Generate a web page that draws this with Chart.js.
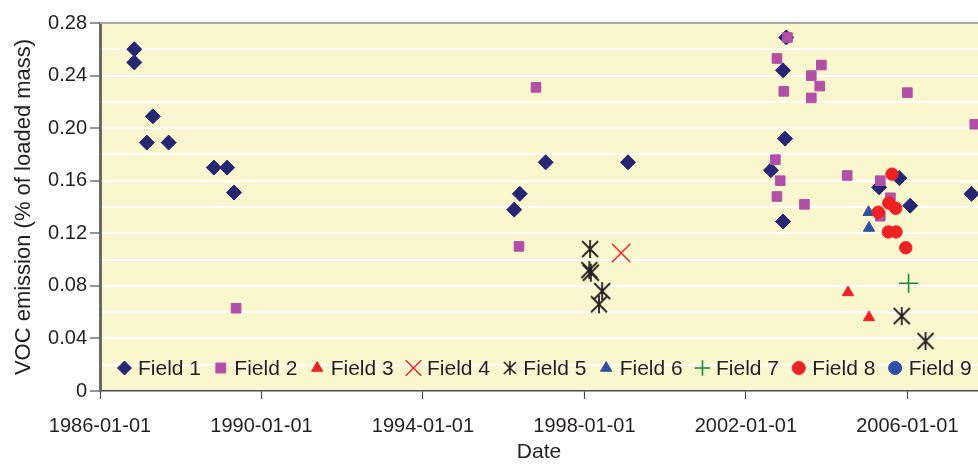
<!DOCTYPE html>
<html><head><meta charset="utf-8">
<script src="https://cdn.jsdelivr.net/npm/chart.js@4.4.1/dist/chart.umd.min.js"></script>
<style>html,body{margin:0;padding:0;background:#fff;overflow:hidden}canvas{display:block}</style>
</head><body><canvas id="c" width="978" height="471" style="width:978px;height:471px"></canvas>
<script>
// ---- data (x = decimal year, y = VOC emission % of loaded mass) ----
const seriesNames = ['Field 1','Field 2','Field 3','Field 4','Field 5','Field 6','Field 7','Field 8','Field 9'];
const xTickValues = [1986, 1990, 1994, 1998, 2002, 2006];
const xTickLabels = ['1986-01-01','1990-01-01','1994-01-01','1998-01-01','2002-01-01','2006-01-01'];

const field1X = [1986.85,1986.85,1987.31,1987.16,1987.70,1988.82,1989.15,1989.32,1996.26,1996.40,1997.04,1999.08,2003.00,2002.92,2002.97,2002.62,2002.92,2005.30,2005.80,2006.07,2007.59];
const field1Y = [0.260,0.250,0.209,0.189,0.189,0.170,0.170,0.151,0.138,0.150,0.174,0.174,0.269,0.244,0.192,0.168,0.129,0.155,0.162,0.141,0.150];
const field2X = [1989.37,1996.38,1996.80,2003.03,2002.77,2003.87,2003.62,2003.83,2002.94,2003.62,2006.00,2007.67,2002.73,2002.85,2004.51,2005.33,2002.77,2003.45,2005.58,2005.33];
const field2Y = [0.063,0.110,0.231,0.269,0.253,0.248,0.240,0.232,0.228,0.223,0.227,0.203,0.176,0.160,0.164,0.160,0.148,0.142,0.147,0.133];
const field3X = [2004.53,2005.05];
const field3Y = [0.075,0.056];
const field4X = [1998.91];
const field4Y = [0.105];
const field5X = [1998.14,1998.12,1998.16,1998.44,1998.36,2005.86,2006.45];
const field5Y = [0.108,0.092,0.090,0.076,0.066,0.057,0.038];
const field6X = [2005.04,2005.05];
const field6Y = [0.136,0.124];
const field7X = [2006.03];
const field7Y = [0.082];
const field8X = [2005.62,2005.54,2005.71,2005.28,2005.53,2005.72,2005.96];
const field8Y = [0.165,0.143,0.139,0.136,0.121,0.121,0.109];
const field9X = [];
const field9Y = [];

const seriesX = [field1X,field2X,field3X,field4X,field5X,field6X,field7X,field8X,field9X];
const seriesY = [field1Y,field2Y,field3Y,field4Y,field5Y,field6Y,field7Y,field8Y,field9Y];

// ---- styles ----
function asterisk(size, lw, color){
  const c = document.createElement('canvas'); c.width = size; c.height = size;
  const g = c.getContext('2d'); g.strokeStyle = color; g.lineWidth = lw; g.lineCap='butt';
  const m = 1, s = size - 1;
  g.beginPath();
  g.moveTo(size/2, m); g.lineTo(size/2, s);
  g.moveTo(m+1, m+1); g.lineTo(s-1, s-1);
  g.moveTo(s-1, m+1); g.lineTo(m+1, s-1);
  g.stroke();
  return c;
}
const starBig = asterisk(20, 1.8, '#231F20');
const starSmall = asterisk(16, 1.6, '#231F20');

const styles = [
  {pointStyle:'rectRot', color:'#262672', radius:7.5, bw:1, lr:7},
  {pointStyle:'rect', color:'#B24FA8', radius:6.8, bw:1, lr:7},
  {pointStyle:'triangle', color:'#EE2424', radius:6.5, bw:1, lr:6.5},
  {pointStyle:'crossRot', color:'#EE2A2A', radius:13, bw:1.6, lr:11, stroke:true},
  {pointStyle:starBig, legendImg:starSmall, color:'#231F20', radius:9, bw:0, lr:8},
  {pointStyle:'triangle', color:'#2F4FA2', radius:6.5, bw:1, lr:6.5},
  {pointStyle:'cross', color:'#1B8A3B', radius:9.5, bw:1.6, lr:7.8, stroke:true},
  {pointStyle:'circle', color:'#EE2222', radius:6.2, bw:1, lr:6.5},
  {pointStyle:'circle', color:'#2F4FA8', radius:6.2, bw:1, lr:6.5}
];

const datasets = seriesNames.map((name, i) => ({
  label: name,
  data: seriesX[i].map((x, k) => ({x: x, y: seriesY[i][k]})),
  pointStyle: styles[i].pointStyle,
  pointRadius: styles[i].radius,
  pointHoverRadius: styles[i].radius,
  backgroundColor: styles[i].color,
  borderColor: styles[i].color,
  borderWidth: styles[i].bw,
  order: seriesNames.length - i
}));

const FONT = "'Liberation Sans', Arial, Helvetica, sans-serif";
const TXT = '#231F20';

const bgPlugin = {
  id:'bg',
  beforeDraw(chart){
    const {ctx, chartArea:a} = chart;
    ctx.save(); ctx.fillStyle = '#FAF6CE';
    ctx.fillRect(a.left, a.top, a.right - a.left, a.bottom - a.top);
    ctx.restore();
  },
  beforeDatasetsDraw(chart){
    const {ctx, chartArea:a} = chart;
    ctx.save(); ctx.strokeStyle = '#A6A6A6'; ctx.lineWidth = 2;
    ctx.beginPath(); ctx.moveTo(a.left, a.top); ctx.lineTo(a.right, a.top); ctx.stroke();
    ctx.restore();
  }
};

const legendPlugin = {
  id:'insideLegend',
  afterDatasetsDraw(chart){
    const {ctx, chartArea:a} = chart;
    ctx.save();
    ctx.font = '21px ' + FONT;
    ctx.textBaseline = 'middle';
    let x = a.left + 24.5;
    const y = a.bottom - 23;
    seriesNames.forEach((name, i) => {
      const st = styles[i];
      ctx.fillStyle = st.color; ctx.strokeStyle = st.color; ctx.lineWidth = st.bw;
      Chart.helpers.drawPoint(ctx, {
        pointStyle: st.legendImg || st.pointStyle, radius: st.lr, rotation: 0, borderWidth: st.bw
      }, x, y);
      ctx.fillStyle = TXT;
      const tx = x + 13.5;
      ctx.fillText(name, tx, y + 1);
      x = tx + ctx.measureText(name).width + 19.8;
    });
    ctx.restore();
  }
};

new Chart(document.getElementById('c'), {
  type:'scatter',
  data:{datasets},
  options:{
    responsive:false, animation:false, devicePixelRatio:1,
    layout:{autoPadding:false, padding:{top:23, right:0, left:0, bottom:0}},
    plugins:{legend:{display:false}, tooltip:{enabled:false}},
    scales:{
      x:{
        type:'linear', min:1986, max:2007.75,
        afterBuildTicks: s => { s.ticks = xTickValues.map(v => ({value:v})); },
        ticks:{callback:(v, i) => xTickLabels[i], font:{family:FONT, size:20}, color:TXT, padding:15, maxRotation:0, autoSkip:false},
        grid:{drawOnChartArea:false, tickLength:8, tickColor:'#4D4D4D', tickWidth:1.2},
        border:{color:'#4D4D4D', width:1.5},
        title:{display:true, text:'Date', font:{family:FONT, size:21}, color:TXT, padding:{top:6, bottom:6}},
        afterFit: s => { s.height = 80; s.paddingRight = 0; s.paddingLeft = 0; }
      },
      y:{
        min:0, max:0.28,
        ticks:{stepSize:0.02, callback:(v, i) => (i % 2 ? '' : (v === 0 ? '0' : v.toFixed(2))), font:{family:FONT, size:20}, color:TXT, padding:3, autoSkip:false},
        grid:{color: c => (c.tick && c.tick.value === 0) ? 'rgba(0,0,0,0)' : '#FFFFFF', lineWidth:2, tickLength:10,
              tickColor: c => (c.index % 2 ? 'rgba(0,0,0,0)' : '#4D4D4D'), tickWidth:1.2},
        border:{color:'#6A6A6A', width:3},
        title:{display:true, text:'VOC emission (% of loaded mass)', font:{family:FONT, size:22}, color:TXT, padding:{top:11, bottom:11}},
        afterFit: s => { s.width = 100; s.paddingTop = 0; s.paddingBottom = 0; }
      }
    }
  },
  plugins:[bgPlugin, legendPlugin]
});
</script>
</body></html>
